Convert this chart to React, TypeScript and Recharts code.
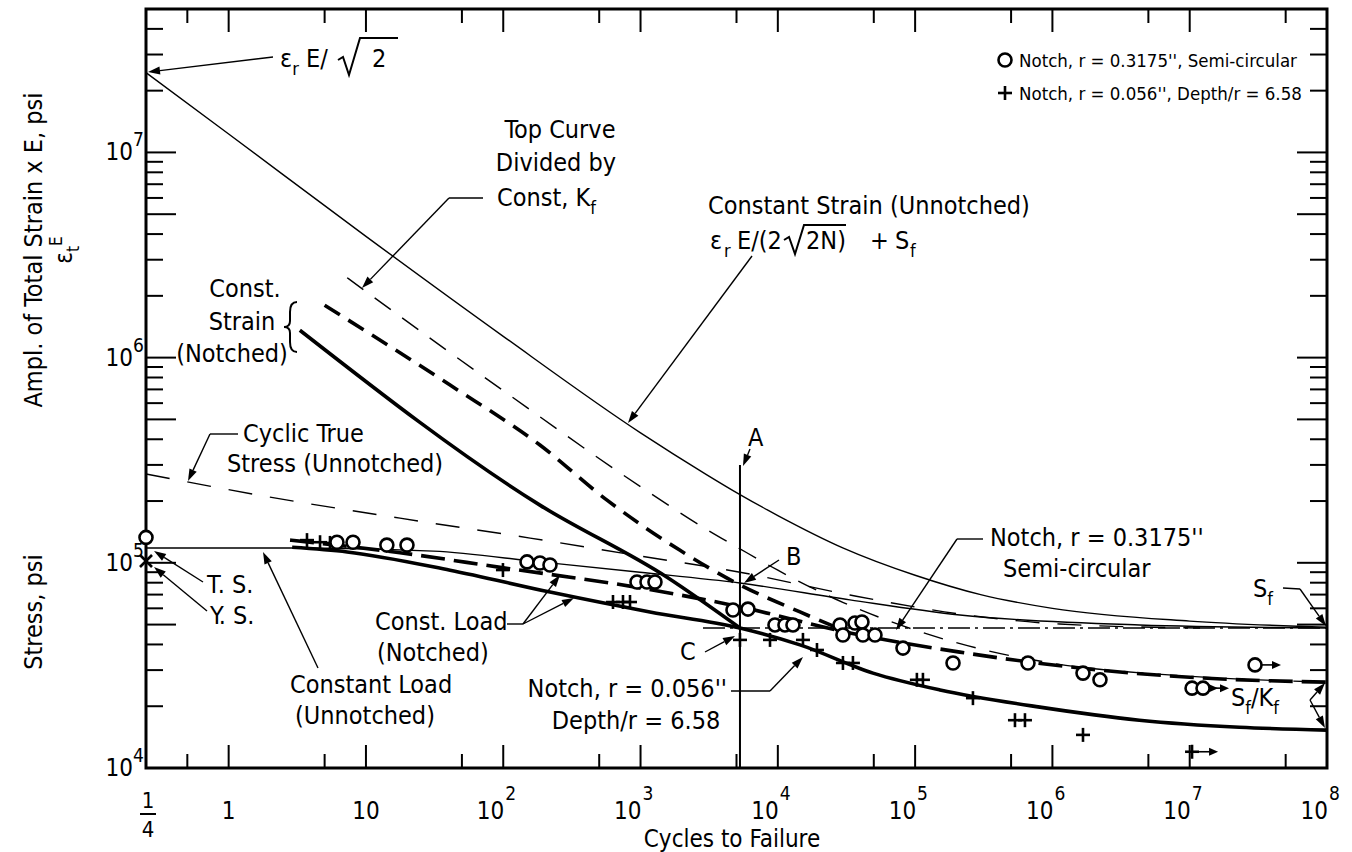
import React from 'react';
import { ComposedChart, Line, Scatter, XAxis, YAxis, ReferenceArea } from 'recharts';

// N = cycles to failure, S = psi

// Constant Strain (Unnotched) - top curve
const topN = [0.25, 1, 10, 100, 1000, 3000, 5300, 1e4, 3e4, 1e5, 3e5, 1e6, 1e7, 1e8];
const topS = [2.45e7, 1.23e7, 3.9e6, 1.27e6, 4.3e5, 2.7e5, 2.15e5, 1.7e5, 1.18e5, 8.7e4, 7.0e4, 6.0e4, 5.2e4, 4.85e4];

// Top curve divided by const K_f
const kfN = [7.3, 10, 100, 1000, 3000, 5300, 1e4, 3e4, 1e5, 3e5, 1e6, 1e7, 1e8];
const kfS = [2.45e6, 2.1e6, 6.9e5, 2.35e5, 1.46e5, 1.17e5, 9.2e4, 6.4e4, 4.7e4, 3.8e4, 3.24e4, 2.8e4, 2.62e4];

// Cyclic true stress (unnotched)
const cycN = [0.25, 2, 17.7, 157, 990, 5300, 33500, 2.12e5, 1.13e6, 1.19e7];
const cycS = [2.71e5, 2.09e5, 1.65e5, 1.32e5, 1.08e5, 9.0e4, 6.97e4, 5.63e4, 5.03e4, 4.81e4];

// Constant load (unnotched)
const loadN = [0.25, 3.3, 31, 185, 990, 5300, 33500, 2.12e5, 4.3e6, 1e8];
const loadS = [1.18e5, 1.18e5, 1.14e5, 1.01e5, 9.0e4, 7.97e4, 6.6e4, 5.57e4, 4.98e4, 4.81e4];

// Const. strain (notched), dashed and solid
const csDashN = [5.0, 41, 185, 570, 1940, 5300, 14500, 33500];
const csDashS = [1.8e6, 7.35e5, 3.75e5, 2.02e5, 1.15e5, 7.8e4, 5.76e4, 4.55e4];
const csSolidN = [3.3, 185, 1560, 5300];
const csSolidS = [1.36e6, 1.91e5, 8.5e4, 4.81e4];

// Const. load (notched) fits
const fitWideN = [2.8, 17.7, 95, 990, 5300, 33500, 2.12e5, 2.22e6, 1.19e7, 1e8];
const fitWideS = [1.29e5, 1.12e5, 9.5e4, 7.55e4, 6.1e4, 4.55e4, 3.67e4, 3.0e4, 2.75e4, 2.62e4];
const fitSharpN = [2.9, 7.3, 41, 219, 1170, 5300, 14500, 49300, 1.52e5, 8.1e5, 4.3e6, 2.3e7, 1e8];
const fitSharpS = [1.19e5, 1.13e5, 9.2e4, 7.2e4, 5.76e4, 4.81e4, 3.98e4, 2.9e4, 2.4e4, 1.98e4, 1.71e4, 1.58e4, 1.53e4];

// S_f level and the A-B-C vertical
const sfN = [2850, 1e8];
const sfS = [4.81e4, 4.81e4];
const vertN = [5300, 5300];
const vertS = [1e4, 3.0e5];

// Test points: notch r = 0.3175"
const circN = [6.15, 8.05, 14.2, 19.9, 149, 185, 219, 942, 1114, 1274, 4713, 6060, 9530, 11270, 12890,
  28370, 36460, 41000, 29800, 41670, 51000, 81560, 188800, 663700, 1.67e6, 2.22e6];
const circS = [1.26e5, 1.26e5, 1.22e5, 1.22e5, 1.01e5, 9.98e4, 9.76e4, 8.06e4, 8.06e4, 8.06e4, 5.89e4, 5.95e4, 4.98e4, 4.98e4, 4.98e4,
  4.98e4, 5.09e4, 5.15e4, 4.45e4, 4.45e4, 4.45e4, 3.84e4, 3.25e4, 3.25e4, 2.9e4, 2.69e4];
const circRunN = [1.04e7, 1.25e7, 2.99e7];
const circRunS = [2.45e4, 2.45e4, 3.18e4];

// Test points: notch r = 0.056"
const plusN = [3.72, 4.63, 5.47, 99.5, 630, 745, 838, 5300, 8770, 15240, 19280, 29800, 35240,
  103000, 114000, 263700, 533600, 631000, 1.67e6];
const plusS = [1.29e5, 1.26e5, 1.25e5, 9.22e4, 6.44e4, 6.44e4, 6.44e4, 4.21e4, 4.21e4, 4.21e4, 3.76e4, 3.25e4, 3.25e4,
  2.69e4, 2.69e4, 2.19e4, 1.71e4, 1.71e4, 1.45e4];
const plusRunN = [1.04e7];
const plusRunS = [1.2e4];

// Unnotched T.S. and Y.S.
const tsN = [0.25];
const tsS = [1.33e5];
const ysN = [0.25];
const ysS = [1.02e5];

// axes
const xTicks = [0.25, 0.5, 1, 5, 10, 50, 100, 500, 1e3, 5e3, 1e4, 5e4, 1e5, 5e5, 1e6, 5e6, 1e7, 5e7, 1e8];
const xLabelVals = [1, 10, 100, 1e3, 1e4, 1e5, 1e6, 1e7, 1e8];
const xLabelExp = ['', '', '2', '3', '4', '5', '6', '7', '8'];
const yTicks = [
  1e4, 2e4, 3e4, 4e4, 5e4, 6e4, 7e4, 8e4, 9e4,
  1e5, 2e5, 3e5, 4e5, 5e5, 6e5, 7e5, 8e5, 9e5,
  1e6, 2e6, 3e6, 4e6, 5e6, 6e6, 7e6, 8e6, 9e6,
  1e7, 2e7, 3e7, 4e7, 5e7,
];
const yLabelVals = [1e4, 1e5, 1e6, 1e7];
const yLabelExp = ['4', '5', '6', '7'];

const W = 1352;
const H = 852;
const P = { l: 146, r: 1327, t: 9, b: 768 };
const FONT = "'DejaVu Sans Condensed', 'DejaVu Sans', sans-serif";
const FS = 25;

const zip = (n: number[], s: number[]) => n.map((v, i) => ({ n: v, s: s[i] }));

function mant(v: number) {
  const e = Math.floor(Math.log10(v) + 1e-9);
  return Math.round(v / Math.pow(10, e));
}

function XTick(props: any) {
  const { x, payload } = props;
  const v = payload.value as number;
  const edge = v <= 0.25 || v >= 1e8;
  const len = mant(v) === 1 ? 23 : 14;
  const i = xLabelVals.indexOf(v);
  return (
    <g fontFamily={FONT}>
      {!edge && (
        <g stroke="#000" strokeWidth={2}>
          <line x1={x} x2={x} y1={P.b} y2={P.b - len} />
          <line x1={x} x2={x} y1={P.t} y2={P.t + len} />
        </g>
      )}
      {v === 0.25 && (
        <g fontSize={22} textAnchor="middle">
          <text x={x + 2} y={P.b + 40}>1</text>
          <line x1={x - 6} x2={x + 10} y1={P.b + 46} y2={P.b + 46} stroke="#000" strokeWidth={2} />
          <text x={x + 2} y={P.b + 69}>4</text>
        </g>
      )}
      {i >= 0 && xLabelExp[i] === '' && (
        <text x={x} y={P.b + 51} fontSize={24} textAnchor="middle">{v === 1 ? '1' : '10'}</text>
      )}
      {i >= 0 && xLabelExp[i] !== '' && (
        <g>
          <text x={x + 1} y={P.b + 51} fontSize={24} textAnchor="end">10</text>
          <text x={x + 2} y={P.b + 32} fontSize={19}>{xLabelExp[i]}</text>
        </g>
      )}
    </g>
  );
}

function YTick(props: any) {
  const { y, payload } = props;
  const v = payload.value as number;
  const m = mant(v);
  const edge = v <= 1e4 || v >= 5e7;
  const len = m === 1 || m === 5 ? 30 : 17;
  const i = yLabelVals.indexOf(v);
  return (
    <g fontFamily={FONT}>
      {!edge && (
        <g stroke="#000" strokeWidth={2}>
          <line x1={P.l} x2={P.l + len} y1={y} y2={y} />
          <line x1={P.r} x2={P.r - len} y1={y} y2={y} />
        </g>
      )}
      {i >= 0 && (
        <g>
          <text x={133} y={y + 8} fontSize={24} textAnchor="end">10</text>
          <text x={133} y={y - 6} fontSize={19}>{yLabelExp[i]}</text>
        </g>
      )}
    </g>
  );
}

const Circ = (p: any) => (
  <circle cx={p.cx} cy={p.cy} r={6.5} fill="#fff" stroke="#000" strokeWidth={2.6} />
);
const Plus = (p: any) => (
  <g stroke="#000" strokeWidth={2.6}>
    <line x1={p.cx - 7} x2={p.cx + 7} y1={p.cy} y2={p.cy} />
    <line x1={p.cx} x2={p.cx} y1={p.cy - 7} y2={p.cy + 7} />
  </g>
);
const Cross = (p: any) => (
  <g stroke="#000" strokeWidth={2.6}>
    <line x1={p.cx - 6} x2={p.cx + 6} y1={p.cy - 6} y2={p.cy + 6} />
    <line x1={p.cx - 6} x2={p.cx + 6} y1={p.cy + 6} y2={p.cy - 6} />
  </g>
);
const RunTail = ({ x, y }: { x: number; y: number }) => (
  <g>
    <line x1={x} x2={x + 12} y1={y} y2={y} stroke="#000" strokeWidth={1.6} />
    <path d={`M${x + 19},${y} L${x + 10},${y - 4} L${x + 10},${y + 4} Z`} fill="#000" />
  </g>
);
const CircRun = (p: any) => (
  <g>
    <Circ cx={p.cx} cy={p.cy} />
    <RunTail x={p.cx + 7} y={p.cy} />
  </g>
);
const PlusRun = (p: any) => (
  <g>
    <Plus cx={p.cx} cy={p.cy} />
    <RunTail x={p.cx + 7} y={p.cy} />
  </g>
);

function Arrow({ x1, y1, x2, y2, w = 1.4 }: { x1: number; y1: number; x2: number; y2: number; w?: number }) {
  const a = Math.atan2(y2 - y1, x2 - x1);
  const L = 12;
  const h = 4;
  const bx = x2 - L * Math.cos(a);
  const by = y2 - L * Math.sin(a);
  const px = -Math.sin(a) * h;
  const py = Math.cos(a) * h;
  return (
    <g>
      <line x1={x1} y1={y1} x2={bx} y2={by} stroke="#000" strokeWidth={w} />
      <path d={`M${x2},${y2} L${bx + px},${by + py} L${bx - px},${by - py} Z`} fill="#000" />
    </g>
  );
}

function Seg({ pts }: { pts: number[] }) {
  return <polyline points={pts.join(',')} fill="none" stroke="#000" strokeWidth={1.4} />;
}

function Notes() {
  return (
    <svg
      width={W}
      height={H}
      style={{ position: 'absolute', left: 0, top: 0, pointerEvents: 'none' }}
      fontFamily={FONT}
      fontSize={FS}
    >
      {/* legend */}
      <circle cx={1005} cy={60} r={6.5} fill="#fff" stroke="#000" strokeWidth={2.6} />
      <text x={1019} y={67} fontSize={18.5}>Notch, r = 0.3175'', Semi-circular</text>
      <Plus cx={1005} cy={93} />
      <text x={1019} y={100} fontSize={18.5}>Notch, r = 0.056'', Depth/r = 6.58</text>

      {/* eps_r E / sqrt 2 */}
      <text x={280} y={67} fontSize={25}>
        ε<tspan fontSize={18} dy={8}>r</tspan>
        <tspan dy={-8}> E/</tspan>
      </text>
      <path d="M338,60 L343,57 L349,75 L360,38 L398,38" fill="none" stroke="#000" strokeWidth={2} />
      <text x={372} y={67} fontSize={25}>2</text>
      <Arrow x1={273} y1={57} x2={148} y2={72} />

      {/* top curve / K_f */}
      <text x={560} y={138} textAnchor="middle">Top Curve</text>
      <text x={556} y={171} textAnchor="middle">Divided by</text>
      <text x={497} y={206}>
        Const, K<tspan fontSize={18} dy={8}>f</tspan>
      </text>
      <Seg pts={[483, 198, 449, 198]} />
      <Arrow x1={449} y1={198} x2={362} y2={288} />

      {/* constant strain unnotched */}
      <text x={708} y={214}>Constant Strain (Unnotched)</text>
      <text x={710} y={249}>ε</text>
      <text x={724} y={257} fontSize={18}>r</text>
      <text x={737} y={249}>E/(2</text>
      <path d="M784,240 L789,237 L795,254 L804,225 L846,225" fill="none" stroke="#000" strokeWidth={2} />
      <text x={806} y={249}>2N)</text>
      <text x={870} y={249}>+</text>
      <text x={895} y={249}>S</text>
      <text x={910} y={257} fontSize={18}>f</text>
      <Arrow x1={752} y1={256} x2={628} y2={423} />

      {/* const strain notched */}
      <text x={245} y={297} textAnchor="middle">Const.</text>
      <text x={242} y={330} textAnchor="middle">Strain</text>
      <text x={232} y={362} textAnchor="middle">(Notched)</text>
      <path
        d="M297,302 Q290,302 290,312 L290,321 Q290,327 284,327 Q290,327 290,333 L290,342 Q290,352 297,352"
        fill="none"
        stroke="#000"
        strokeWidth={2}
      />

      {/* cyclic true stress */}
      <text x={243} y={442}>Cyclic True</text>
      <text x={227} y={472}>Stress (Unnotched)</text>
      <Seg pts={[238, 434, 210, 434]} />
      <Arrow x1={210} y1={434} x2={188} y2={481} />

      {/* A B C */}
      <text x={748} y={446}>A</text>
      <Arrow x1={750} y1={449} x2={743} y2={466} />
      <text x={786} y={565}>B</text>
      <Arrow x1={779} y1={560} x2={744} y2={583} />
      <text x={680} y={660}>C</text>
      <Arrow x1={705} y1={652} x2={735} y2={636} />

      {/* notch 0.056 */}
      <text x={727} y={697} textAnchor="end">Notch, r = 0.056''</text>
      <text x={636} y={729} textAnchor="middle">Depth/r = 6.58</text>
      <Seg pts={[731, 691, 770, 691]} />
      <Arrow x1={770} y1={691} x2={803} y2={657} />

      {/* notch 0.3175 */}
      <text x={990} y={546}>Notch, r = 0.3175''</text>
      <text x={1003} y={577}>Semi-circular</text>
      <Seg pts={[983, 539, 957, 539]} />
      <Arrow x1={957} y1={539} x2={896} y2={630} />

      {/* const load notched */}
      <text x={375} y={630}>Const. Load</text>
      <text x={377} y={661}>(Notched)</text>
      <Seg pts={[507, 624, 523, 624]} />
      <Arrow x1={523} y1={624} x2={560} y2={575} />
      <Arrow x1={523} y1={624} x2={574} y2={598} />

      {/* T.S. / Y.S. */}
      <text x={207} y={593}>T. S.</text>
      <Arrow x1={203} y1={582} x2={154} y2={551} />
      <text x={210} y={624}>Y. S.</text>
      <Arrow x1={207} y1={611} x2={154} y2={567} />

      {/* constant load unnotched */}
      <text x={290} y={693}>Constant Load</text>
      <text x={365} y={724} textAnchor="middle">(Unnotched)</text>
      <Arrow x1={318} y1={668} x2={263} y2={552} />

      {/* S_f and S_f/K_f */}
      <text x={1253} y={597}>
        S<tspan fontSize={18} dy={8}>f</tspan>
      </text>
      <Seg pts={[1283, 588, 1300, 589]} />
      <Arrow x1={1300} y1={589} x2={1326} y2={626} />
      <text x={1231} y={706}>
        S<tspan fontSize={18} dy={8}>f</tspan>
        <tspan dy={-8}>/K</tspan>
        <tspan fontSize={18} dy={8}>f</tspan>
      </text>
      <Arrow x1={1310} y1={700} x2={1325} y2={683} />
      <Arrow x1={1310} y1={700} x2={1325} y2={728} />

      {/* axis titles */}
      <text transform="translate(42,250) rotate(-90)" textAnchor="middle">
        Ampl. of Total Strain x E, psi
      </text>
      <text transform="translate(72,250) rotate(-90)" textAnchor="middle" fontSize={24}>
        ε<tspan fontSize={17} dy={7}>t</tspan>
        <tspan fontSize={17} dy={-17}>E</tspan>
      </text>
      <text transform="translate(42,612) rotate(-90)" textAnchor="middle">Stress, psi</text>
      <text x={732} y={847} textAnchor="middle" fontSize={24}>Cycles to Failure</text>
    </svg>
  );
}

export default function App() {
  const thin = { stroke: '#000', strokeWidth: 1.4, dot: false, isAnimationActive: false } as const;
  const thick = { stroke: '#000', strokeWidth: 3.6, dot: false, isAnimationActive: false } as const;
  return (
    <div style={{ position: 'absolute', left: 0, top: 0, width: W, height: H, background: '#fff' }}>
      <ComposedChart width={W} height={H} margin={{ top: P.t, right: W - P.r, left: 0, bottom: 0 }}>
        <XAxis
          dataKey="n"
          type="number"
          scale="log"
          domain={[0.25, 1e8]}
          ticks={xTicks}
          interval={0}
          tick={XTick}
          tickLine={false}
          axisLine={false}
          height={H - P.b}
        />
        <YAxis
          dataKey="s"
          type="number"
          scale="log"
          domain={[1e4, 5e7]}
          ticks={yTicks}
          interval={0}
          tick={YTick}
          tickLine={false}
          axisLine={false}
          width={P.l}
        />
        <ReferenceArea x1={0.25} x2={1e8} y1={1e4} y2={5e7} fill="none" stroke="#000" strokeWidth={3} />

        <Line data={zip(topN, topS)} dataKey="s" type="monotone" {...thin} />
        <Line data={zip(kfN, kfS)} dataKey="s" type="monotone" {...thin} strokeDasharray="20 14" />
        <Line data={zip(cycN, cycS)} dataKey="s" type="monotone" {...thin} strokeDasharray="24 18" />
        <Line data={zip(loadN, loadS)} dataKey="s" type="monotone" {...thin} />
        <Line data={zip(sfN, sfS)} dataKey="s" type="linear" {...thin} strokeDasharray="22 5 3 5" />
        <Line data={zip(vertN, vertS)} dataKey="s" type="linear" {...thin} strokeWidth={2} />
        <Line data={zip(csDashN, csDashS)} dataKey="s" type="monotone" {...thick} strokeDasharray="18 10" />
        <Line data={zip(csSolidN, csSolidS)} dataKey="s" type="monotone" {...thick} />
        <Line data={zip(fitWideN, fitWideS)} dataKey="s" type="monotone" {...thick} strokeDasharray="24 9" />
        <Line data={zip(fitSharpN, fitSharpS)} dataKey="s" type="monotone" {...thick} />

        <Scatter data={zip(plusN, plusS)} dataKey="s" shape={Plus} isAnimationActive={false} />
        <Scatter data={zip(plusRunN, plusRunS)} dataKey="s" shape={PlusRun} isAnimationActive={false} />
        <Scatter data={zip(circN, circS)} dataKey="s" shape={Circ} isAnimationActive={false} />
        <Scatter data={zip(circRunN, circRunS)} dataKey="s" shape={CircRun} isAnimationActive={false} />
        <Scatter data={zip(tsN, tsS)} dataKey="s" shape={Circ} isAnimationActive={false} />
        <Scatter data={zip(ysN, ysS)} dataKey="s" shape={Cross} isAnimationActive={false} />
      </ComposedChart>
      <Notes />
    </div>
  );
}
